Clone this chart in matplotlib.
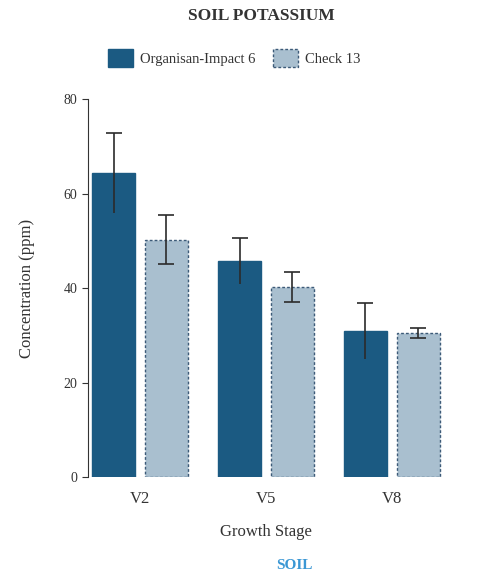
import matplotlib
matplotlib.use("Agg")
import matplotlib.pyplot as plt
import numpy as np

stages = ["V2", "V5", "V8"]
organisan = [64.3, 45.7, 30.9]
organisan_err = [8.5, 4.9, 5.9]
check = [50.2, 40.2, 30.5]
check_err = [5.2, 3.1, 1.0]

plt.rcParams["font.family"] = ["Liberation Serif", "DejaVu Serif"]

fig = plt.figure(figsize=(4.93, 5.78), dpi=100)
ax = fig.add_axes([0.1785, 0.1747, 0.722, 0.654])

x = np.arange(len(stages))
w = 0.34
off = 0.21
dark = "#1b5a82"
light = "#a9bfcf"

ax.bar(x - off, organisan, w, color=dark, edgecolor=dark, zorder=2,
       label="Organisan-Impact 6")
ax.bar(x + off, check, w, color=light, edgecolor="#3c5a78", linestyle=(0, (2, 1.5)),
       linewidth=1.0, zorder=2, label="Check 13")
eb = ax.errorbar(x - off, organisan, yerr=organisan_err, fmt="none", ecolor="#2b2b2b",
                 elinewidth=1.2, capsize=6, capthick=1.2, zorder=3)
eb[1][0].set_visible(False)  # lower caps vanish into the dark bars
ax.errorbar(x + off, check, yerr=check_err, fmt="none", ecolor="#2b2b2b",
            elinewidth=1.2, capsize=6, capthick=1.2, zorder=3)

ax.set_xlim(-0.413, 2.413)
ax.set_ylim(0, 80)
ax.set_yticks([0, 20, 40, 60, 80])
ax.set_xticks(x)
ax.set_xticklabels(stages)
for s in ["top", "right", "bottom"]:
    ax.spines[s].set_visible(False)
ax.spines["left"].set_color("#333333")
ax.tick_params(axis="x", length=0, labelsize=12, colors="#333333", pad=10)
ax.tick_params(axis="y", length=4, labelsize=10, colors="#333333")
ax.set_xlabel("Growth Stage", fontsize=12, color="#333333", labelpad=12)
ax.set_ylabel("Concentration (ppm)", fontsize=12, color="#333333", labelpad=21)

fig.text(0.531, 0.973, "SOIL POTASSIUM", ha="center", va="center",
         fontsize=12.5, fontweight="bold", color="#333333")
fig.text(0.598, 0.022, "SOIL", ha="center", va="center",
         fontsize=11, fontweight="bold", color="#3a97d4")

leg = fig.legend(loc="center", bbox_to_anchor=(0.475, 0.9), ncol=2, frameon=False,
                 fontsize=10.5, handlelength=1.7, handleheight=1.5,
                 columnspacing=1.2, handletextpad=0.5)
for t in leg.get_texts():
    t.set_color("#333333")

fig.savefig("out.png", dpi=100)
